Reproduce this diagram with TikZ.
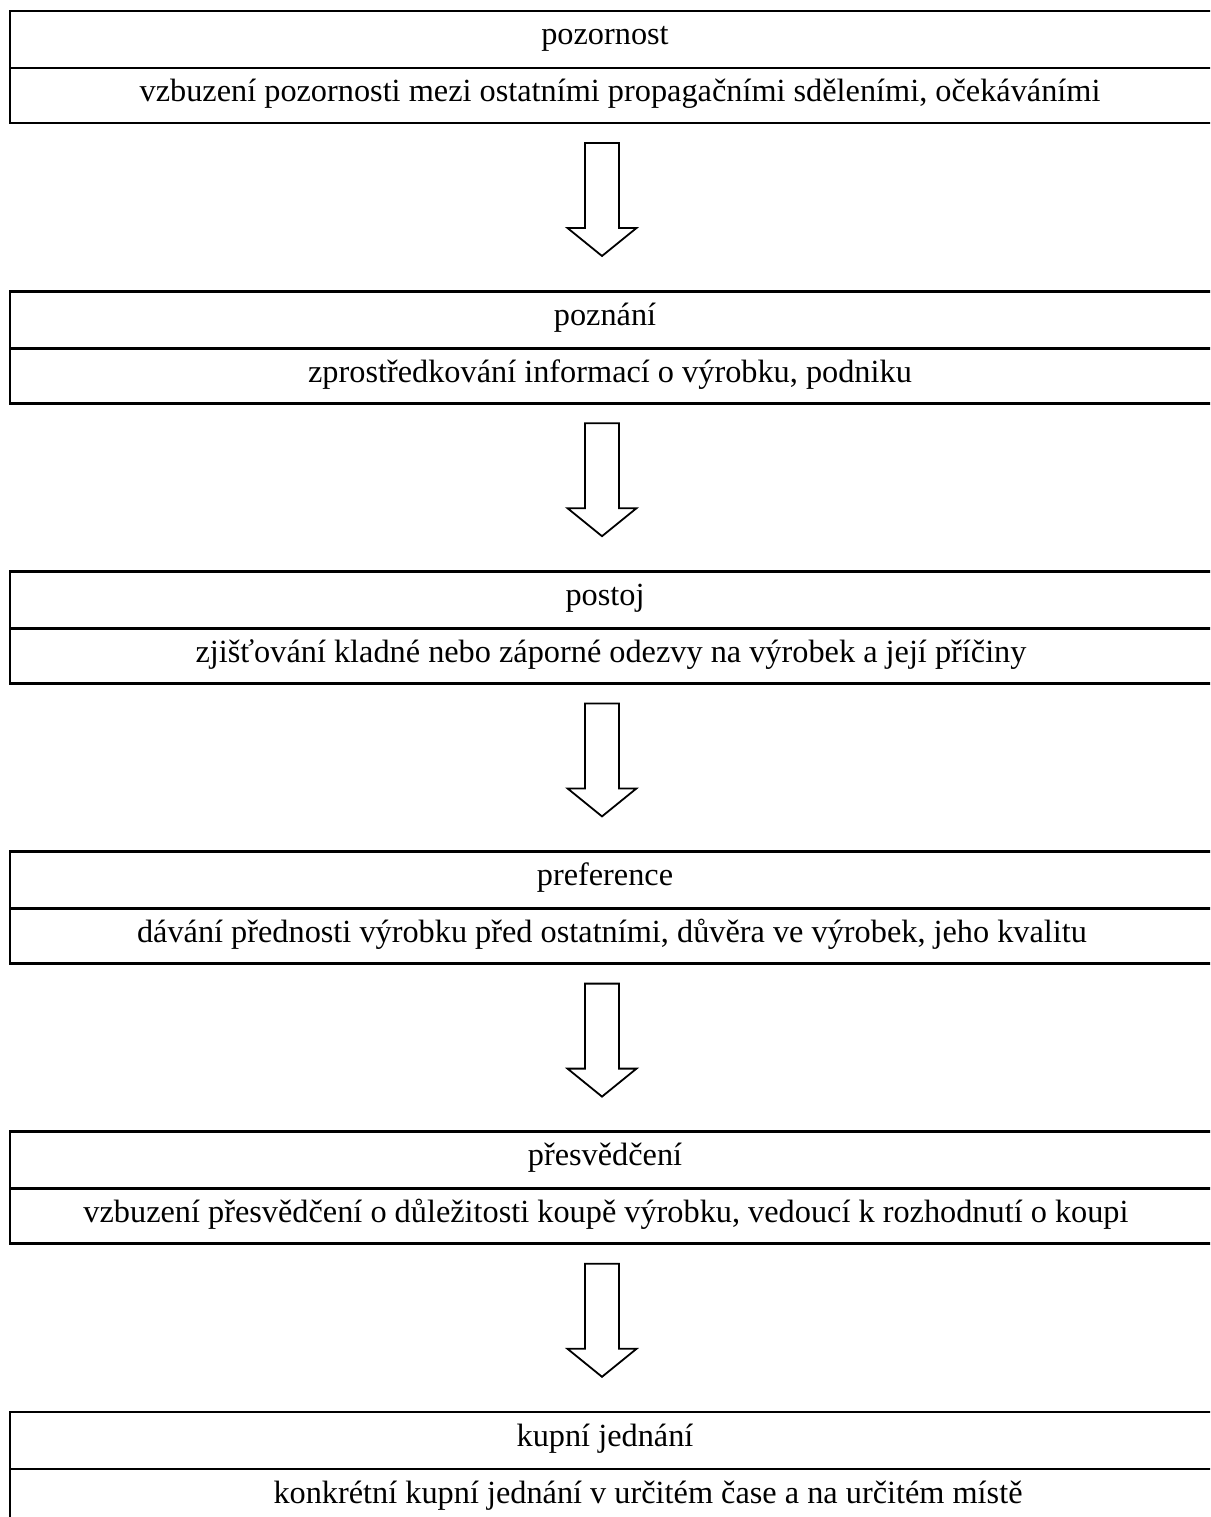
\documentclass[tikz,border=0pt]{standalone}
\usepackage{fontspec}
\setmainfont{Liberation Serif}
\newcommand\myblock[5]{%
  \draw[boxline] (10,#1+57) -- (1225,#1+57);
  \draw[boxline] (1225,#1) -- (10,#1) -- (10,#1+112) -- (1225,#1+112);
  \node[lbl] (#2t) at (605,#1+34) {#3};
  \node[lbl] (#2d) at (#5,#1+91) {#4};
}
\newcommand\myarrow[2]{%
  \coordinate (#2) at (602,#1+132);
  \draw[arrowline] (#2) ++(-17,0) -- ++(34,0) -- ++(0,85) -- ++(17.5,0)
     -- ++(-34.5,28) -- ++(-34.5,-28) -- ++(17.5,0) -- cycle;
}
\begin{document}
\begin{tikzpicture}[x=1pt,y=-1pt,
  boxline/.style={line width=2.8pt,line cap=rect},
  arrowline/.style={line width=1.8pt,line join=miter,fill=white},
  lbl/.style={anchor=base,inner sep=0pt,font=\fontsize{32.3}{38}\selectfont}]
\useasboundingbox (0,0) rectangle (1210,1517);
\clip (0,0) rectangle (1210,1517);
\myblock{11}{b1}{pozornost}{vzbuzení pozornosti mezi ostatními propagačními sděleními, očekáváními}{620}
\myarrow{11}{a1}
\myblock{291.2}{b2}{poznání}{zprostředkování informací o výrobku, podniku}{610}
\myarrow{291.2}{a2}
\myblock{571.4}{b3}{postoj}{zjišťování kladné nebo záporné odezvy na výrobek a její příčiny}{611}
\myarrow{571.4}{a3}
\myblock{851.6}{b4}{preference}{dávání přednosti výrobku před ostatními, důvěra ve výrobek, jeho kvalitu}{612}
\myarrow{851.6}{a4}
\myblock{1131.8}{b5}{přesvědčení}{vzbuzení přesvědčení o důležitosti koupě výrobku, vedoucí k rozhodnutí o koupi}{606}
\myarrow{1131.8}{a5}
\myblock{1412}{b6}{kupní jednání}{konkrétní kupní jednání v určitém čase a na určitém místě}{648}
\end{tikzpicture}
\end{document}
